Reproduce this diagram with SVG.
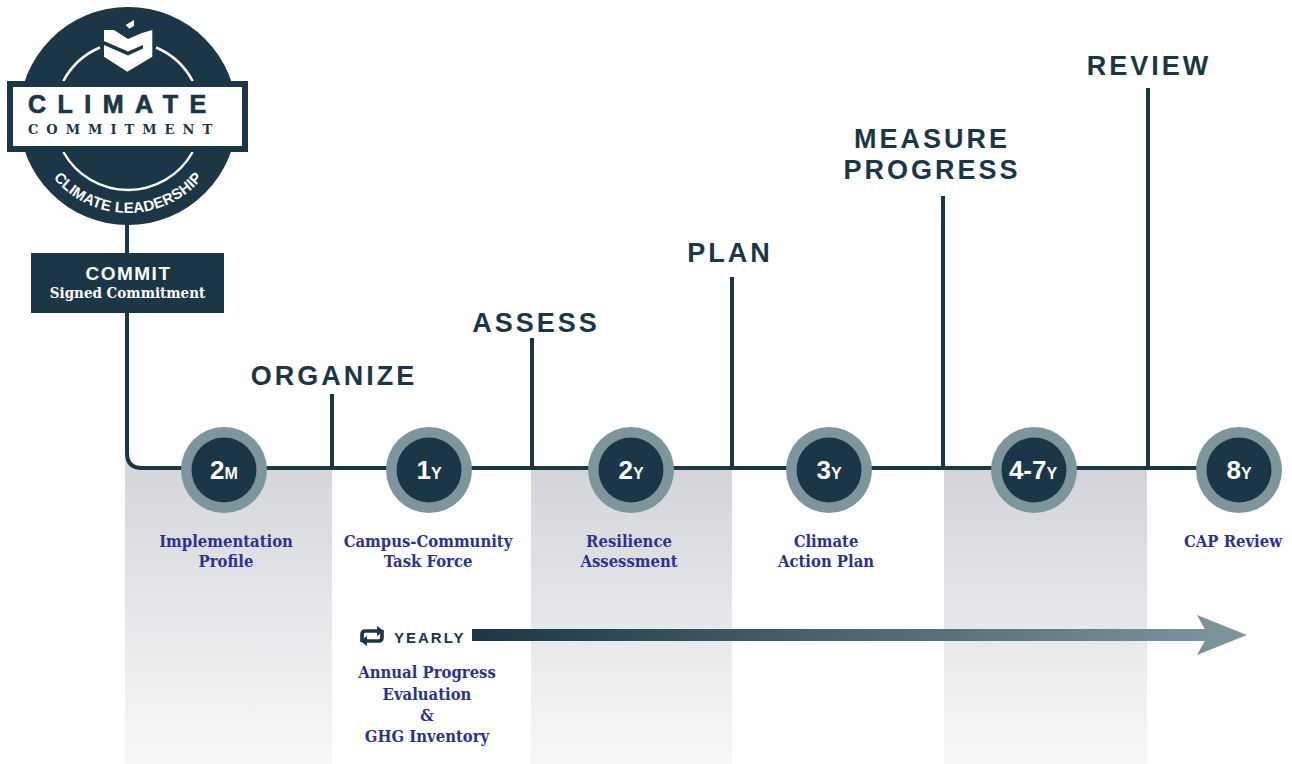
<svg xmlns="http://www.w3.org/2000/svg" width="1292" height="764" viewBox="0 0 1292 764">
<defs>
<linearGradient id="colGrad" x1="0" y1="0" x2="0" y2="1">
<stop offset="0" stop-color="#d2d4d9"/>
<stop offset="1" stop-color="#f8f8f9"/>
</linearGradient>
<linearGradient id="arrowGrad" gradientUnits="userSpaceOnUse" x1="472" y1="0" x2="1247" y2="0">
<stop offset="0" stop-color="#1b3646"/>
<stop offset="1" stop-color="#7e979f"/>
</linearGradient>
<path id="leadArc" d="M31,116 A97,97 0 0 0 225,116"/>
</defs>
<style>
.dark{fill:#1b3646}
.line{stroke:#1b3646;stroke-width:4;fill:none}
.stage{font-family:"Liberation Sans",Arial,sans-serif;font-weight:bold;font-size:27px;fill:#1b3646;letter-spacing:3px;text-anchor:middle}
.ring{fill:#7d969e}
.core{fill:#1b3646}
.num{font-family:"Liberation Sans",Arial,sans-serif;font-weight:bold;font-size:26px;fill:#ffffff;text-anchor:middle}
.unit{font-size:16px}
.lbl{font-family:"DejaVu Serif","Liberation Serif",serif;font-stretch:condensed;font-weight:bold;font-size:16.5px;fill:#2e3191;text-anchor:middle}
</style>

<rect width="1292" height="764" fill="#ffffff"/>

<g id="bands">
<path d="M125,450 V764 H332 V468 H142 Q127,468 127,453 Z" fill="url(#colGrad)"/>
<rect x="531" y="468" width="201" height="296" fill="url(#colGrad)"/>
<rect x="944" y="468" width="203" height="296" fill="url(#colGrad)"/>
</g>

<g id="connectors">
<path class="line" d="M127,220 V453 Q127,468 142,468 H1239"/>
<line class="line" x1="332" y1="394" x2="332" y2="468"/>
<line class="line" x1="532" y1="338" x2="532" y2="468"/>
<line class="line" x1="732" y1="277" x2="732" y2="468"/>
<line class="line" x1="943" y1="196" x2="943" y2="468"/>
<line class="line" x1="1148" y1="88" x2="1148" y2="468"/>
</g>

<g id="logo">
<circle cx="128" cy="116" r="109" class="dark"/>
<path d="M63.35,81 A74,74 0 0 1 100,47.5" stroke="#ffffff" stroke-width="2.5" fill="none"/>
<path d="M156,47.5 A74,74 0 0 1 192.65,81" stroke="#ffffff" stroke-width="2.5" fill="none"/>
<path d="M63.35,152 A74,74 0 0 0 192.65,152" stroke="#ffffff" stroke-width="2.5" fill="none"/>
<polygon points="104,30 114,30 128,39 142,33 152.3,30 152.3,56.7 127.3,71.7 104,56.7" fill="#ffffff"/>
<polygon points="104,41 128,51.5 143,45 143,48.5 128,55.5 104,45" fill="#1b3646"/>
<polygon points="125.7,25 134,20 134,25.7 129.3,28.7" fill="#ffffff"/>
<rect x="7" y="81" width="241" height="71" class="dark"/>
<rect x="13" y="87" width="229" height="59" fill="#ffffff"/>
<text x="28" y="113" font-family="Liberation Sans,Arial,sans-serif" font-weight="bold" font-size="25" letter-spacing="11.5" fill="#1b3646" stroke="#1b3646" stroke-width="0.7">CLIMATE</text>
<text x="28" y="134" font-family="DejaVu Serif,Liberation Serif,serif" font-weight="bold" font-size="13" letter-spacing="8" fill="#1b3646">COMMITMENT</text>
<text font-family="Liberation Sans,Arial,sans-serif" font-weight="bold" font-size="15" letter-spacing="0.2" fill="#ffffff"><textPath href="#leadArc" startOffset="50%" text-anchor="middle">CLIMATE LEADERSHIP</textPath></text>
</g>

<g id="commit">
<rect x="31" y="253" width="193" height="60" class="dark"/>
<text x="128.5" y="280" font-family="Liberation Sans,Arial,sans-serif" font-weight="bold" font-size="19" letter-spacing="1.5" fill="#ffffff" text-anchor="middle">COMMIT</text>
<text x="127.5" y="298" font-family="DejaVu Serif,Liberation Serif,serif" font-stretch="condensed" font-weight="bold" font-size="15" fill="#ffffff" text-anchor="middle">Signed Commitment</text>
</g>

<g id="stage-labels">
<text class="stage" x="334" y="385">ORGANIZE</text>
<text class="stage" x="536" y="332">ASSESS</text>
<text class="stage" x="730" y="262">PLAN</text>
<text class="stage" x="932" y="148">MEASURE</text>
<text class="stage" x="932" y="179">PROGRESS</text>
<text class="stage" x="1149" y="75">REVIEW</text>
</g>

<g id="m2">
<circle cx="224" cy="470" r="43" class="ring"/>
<circle cx="224" cy="470" r="32.5" class="core"/>
<text class="num" x="224" y="479">2<tspan class="unit">M</tspan></text>
<text class="lbl" x="226" y="547">Implementation</text>
<text class="lbl" x="226" y="567">Profile</text>
</g>

<g id="y1">
<circle cx="429" cy="470" r="43" class="ring"/>
<circle cx="429" cy="470" r="32.5" class="core"/>
<text class="num" x="429" y="479">1<tspan class="unit">Y</tspan></text>
<text class="lbl" x="428" y="547">Campus-Community</text>
<text class="lbl" x="428" y="567">Task Force</text>
</g>

<g id="y2">
<circle cx="631" cy="470" r="43" class="ring"/>
<circle cx="631" cy="470" r="32.5" class="core"/>
<text class="num" x="631" y="479">2<tspan class="unit">Y</tspan></text>
<text class="lbl" x="629" y="547">Resilience</text>
<text class="lbl" x="629" y="567">Assessment</text>
</g>

<g id="y3">
<circle cx="829" cy="470" r="43" class="ring"/>
<circle cx="829" cy="470" r="32.5" class="core"/>
<text class="num" x="829" y="479">3<tspan class="unit">Y</tspan></text>
<text class="lbl" x="826" y="547">Climate</text>
<text class="lbl" x="826" y="567">Action Plan</text>
</g>

<g id="y47">
<circle cx="1034" cy="470" r="43" class="ring"/>
<circle cx="1034" cy="470" r="32.5" class="core"/>
<text class="num" x="1033" y="479">4-7<tspan class="unit">Y</tspan></text>
</g>

<g id="y8">
<circle cx="1239" cy="470" r="43" class="ring"/>
<circle cx="1239" cy="470" r="32.5" class="core"/>
<text class="num" x="1239" y="479">8<tspan class="unit">Y</tspan></text>
<text class="lbl" x="1233" y="547">CAP Review</text>
</g>

<g id="yearly">
<path d="M362,642 V634.5 Q362,631 365.5,631 H378" stroke="#1b3646" stroke-width="3.6" fill="none"/>
<polygon points="377,626 384,631 377,636" fill="#1b3646"/>
<path d="M382,630 V637.5 Q382,641 378.5,641 H366" stroke="#1b3646" stroke-width="3.6" fill="none"/>
<polygon points="367,636 360,641 367,646" fill="#1b3646"/>
<text x="394" y="643" font-family="Liberation Sans,Arial,sans-serif" font-weight="bold" font-size="15" letter-spacing="2" fill="#1b3646">YEARLY</text>
<rect x="472" y="629" width="738" height="12" fill="url(#arrowGrad)"/>
<polygon points="1197,615 1247,635 1197,655 1208,635" fill="url(#arrowGrad)"/>
<text class="lbl" x="427" y="678">Annual Progress</text>
<text class="lbl" x="427" y="700">Evaluation</text>
<text class="lbl" x="427" y="721">&amp;</text>
<text class="lbl" x="427" y="742">GHG Inventory</text>
</g>
</svg>
